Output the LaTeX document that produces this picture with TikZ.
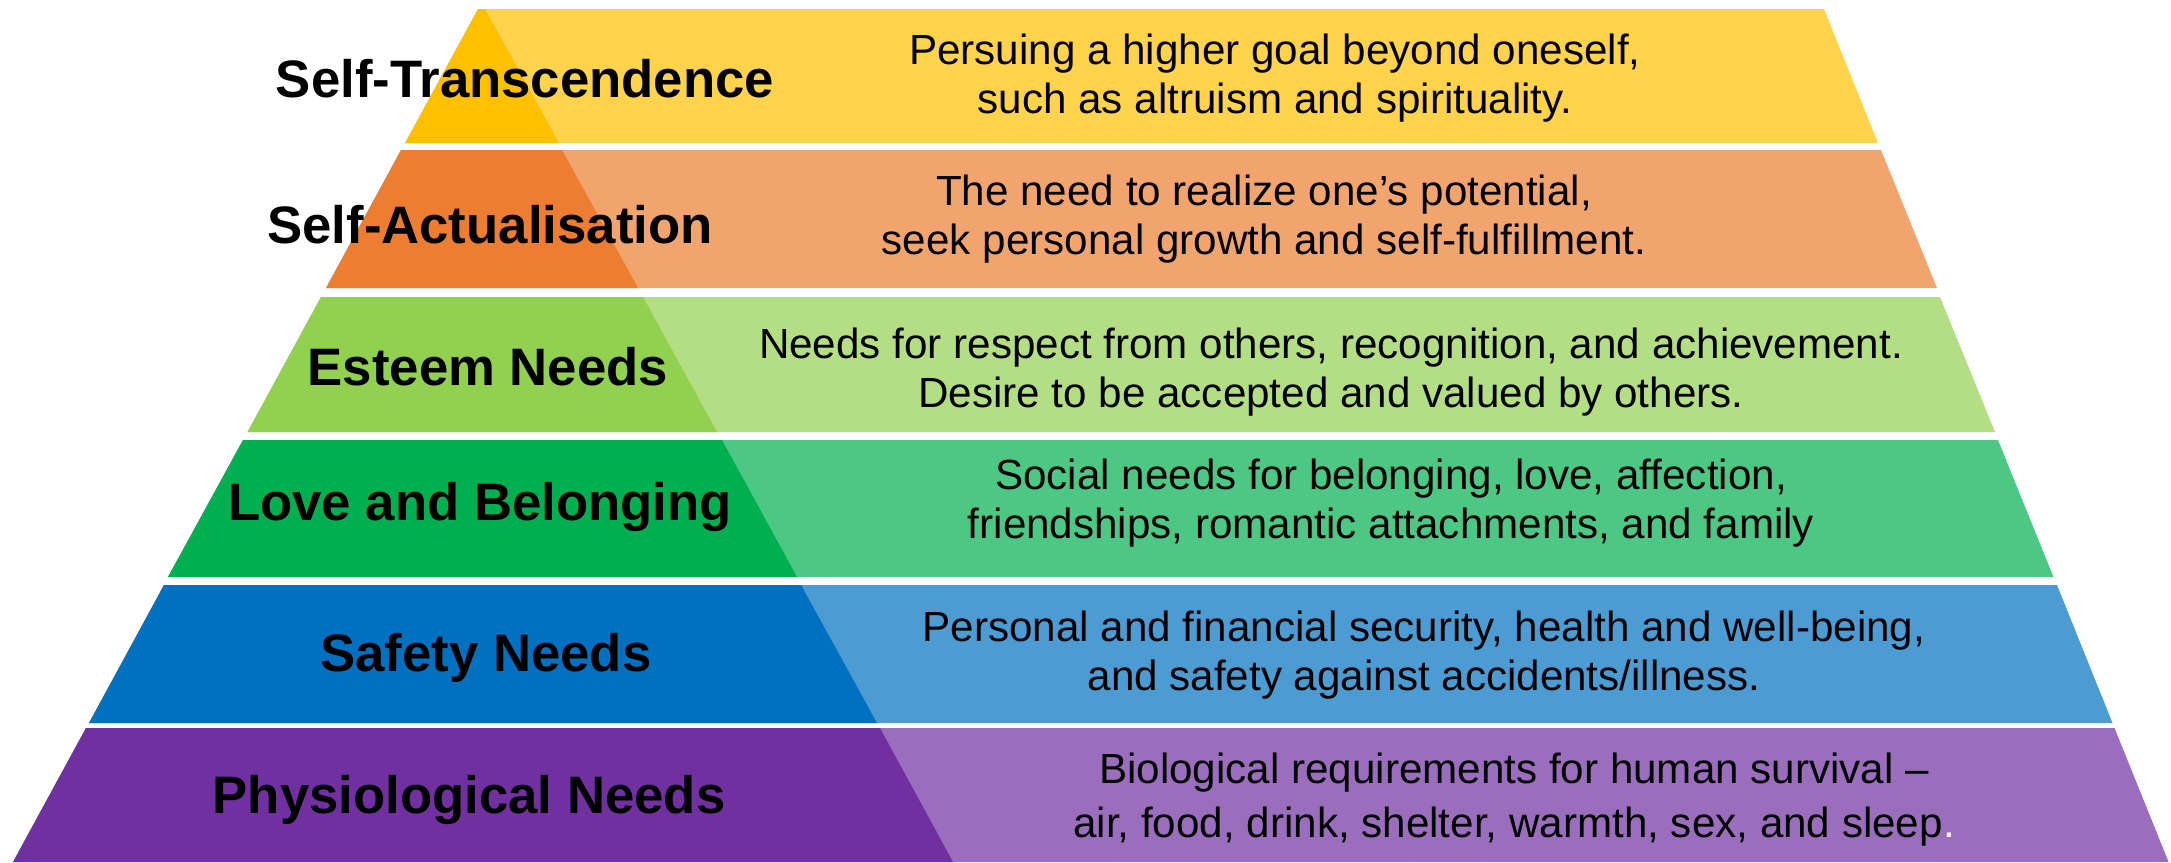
\documentclass[tikz,border=0pt]{standalone}
\usepackage{fontspec}
\setmainfont{Liberation Sans}
\definecolor{mzgold}{HTML}{FFC000}
\definecolor{mzorange}{HTML}{ED7D31}
\definecolor{mzlime}{HTML}{92D050}
\definecolor{mzgreen}{HTML}{00B050}
\definecolor{mzblue}{HTML}{0070C0}
\definecolor{mzpurple}{HTML}{7030A0}
\tikzset{
  bandlt/.style={fill=#1!70!white},
  banddk/.style={fill=#1},
  lvl/.style   ={font=\fontsize{15}{18}\selectfont\bfseries, text=black,
                 anchor=base, inner sep=0pt},
  dsc/.style   ={font=\fontsize{12}{13.9}\selectfont, text=black,
                 align=center, anchor=base, inner sep=0pt}
}
\begin{document}
\begin{tikzpicture}[x=0.1mm,y=-0.1mm]
  \useasboundingbox (0,0) rectangle (2171,862);
  % bands, top to bottom
  \fill[bandlt=mzgold]   (478,9)--(1824,9)--(1878,143)--(405,143)--cycle;
  \fill[banddk=mzgold]   (478,9)--(485,9)--(559,143)--(405,143)--cycle;
  \fill[bandlt=mzorange] (401,150)--(1881,150)--(1937,288)--(326,288)--cycle;
  \fill[banddk=mzorange] (401,150)--(562,150)--(638,288)--(326,288)--cycle;
  \fill[bandlt=mzlime]   (321,297)--(1940,297)--(1995,432)--(247.5,432)--cycle;
  \fill[banddk=mzlime]   (321,297)--(643,297)--(717,432)--(247.5,432)--cycle;
  \fill[bandlt=mzgreen]  (243,440)--(1998,440)--(2053.5,577)--(168,577)--cycle;
  \fill[banddk=mzgreen]  (243,440)--(722,440)--(797,577)--(168,577)--cycle;
  \fill[bandlt=mzblue]   (164,585)--(2057,585)--(2112.5,723)--(89,723)--cycle;
  \fill[banddk=mzblue]   (164,585)--(801,585)--(877,723)--(89,723)--cycle;
  \fill[bandlt=mzpurple] (86,728)--(2114.5,728)--(2168.6,862)--(13,862)--cycle;
  \fill[banddk=mzpurple] (86,728)--(880,728)--(953,862)--(13,862)--cycle;
  % level names
  \node[lvl] (st) at (525,97)  {Self-Transcendence};
  \node[lvl] (sa) at (490,243) {Self-Actualisation};
  \node[lvl] (es) at (488,385) {Esteem Needs};
  \node[lvl] (lb) at (480,520) {Love and Belonging};
  \node[lvl] (sf) at (486,671) {Safety Needs};
  \node[lvl] (ph) at (469,813) {Physiological Needs};
  % descriptions (base = last line)
  \node[dsc] (st-d) at (1275,113) {Persuing a higher goal beyond oneself,\\such as altruism and spirituality.};
  \node[dsc] (sa-d) at (1264,254) {The need to realize one’s potential,\\seek personal growth and self-fulfillment.};
  \node[dsc] (es-d) at (1331,407) {Needs for respect from others, recognition, and achievement.\\Desire to be accepted and valued by others.};
  \node[dsc] (lb-d) at (1391,538) {Social needs for belonging, love, affection,\\friendships, romantic attachments, and family};
  \node[dsc] (sf-d) at (1424,690) {Personal and financial security, health and well-being,\\and safety against accidents/illness.};
  \node[dsc] (ph-d) at (1514,837) {Biological requirements for human survival --\\[0.5mm]air, food, drink, shelter, warmth, sex, and sleep\textcolor{white}{.}};
\end{tikzpicture}
\end{document}
